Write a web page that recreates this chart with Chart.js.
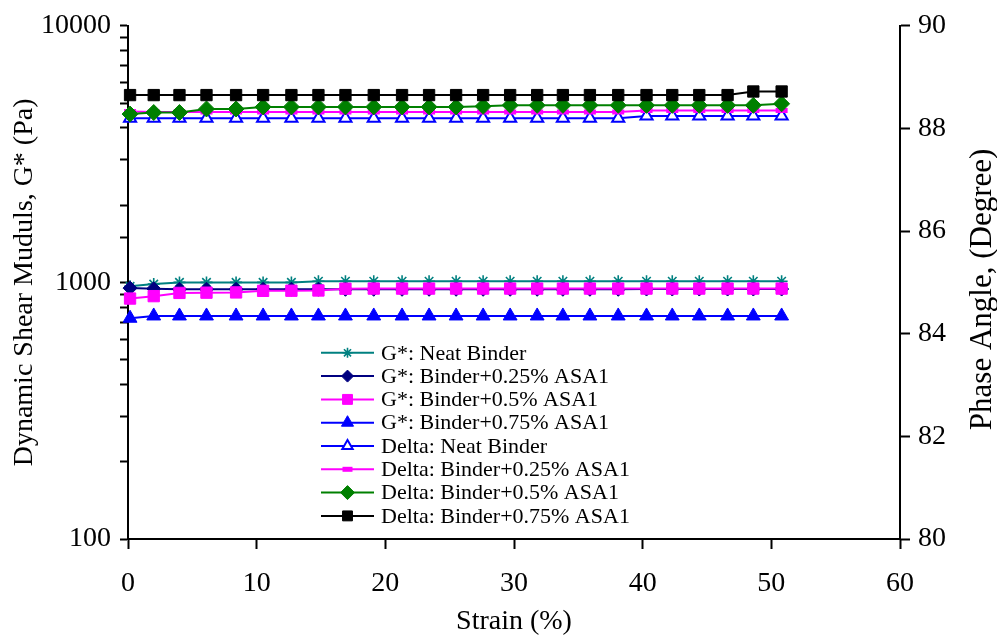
<!DOCTYPE html>
<html>
<head>
<meta charset="utf-8">
<script src="https://cdn.jsdelivr.net/npm/chart.js@4.4.1/dist/chart.umd.min.js"></script>
<style>
  html, body { margin: 0; padding: 0; background: #fff; }
  #wrap { width: 997px; height: 639px; }
</style>
</head>
<body>
<div id="wrap"><canvas id="chart" width="997" height="639"></canvas></div>
<script>
// strain (%) at each measuring point
let strain = [0.16, 2.0, 4.0, 6.1, 8.4, 10.5, 12.7, 14.8, 16.9, 19.1, 21.3, 23.4, 25.5,
              27.6, 29.7, 31.8, 33.8, 35.9, 38.1, 40.3, 42.3, 44.4, 46.6, 48.6, 50.8];

// G* (Pa), left log axis
let gNeat = [965, 985, 1000, 1000, 1000, 1000, 1000, 1010, 1010, 1010, 1010, 1010, 1010,
             1010, 1010, 1010, 1010, 1010, 1010, 1010, 1010, 1010, 1010, 1010, 1010];
let g025 = [950, 945, 940, 940, 940, 940, 940, 940, 940, 940, 940, 940, 940,
            940, 940, 940, 940, 940, 940, 942, 942, 942, 942, 942, 942];
let g05 = [865, 884, 910, 912, 914, 927, 928, 930, 945, 946, 946, 946, 946,
           946, 946, 946, 946, 946, 946, 946, 946, 946, 946, 946, 946];
let g075 = [725, 740, 740, 740, 740, 740, 740, 740, 740, 740, 740, 740, 740,
            740, 740, 740, 740, 740, 740, 740, 740, 740, 740, 740, 740];

// phase angle (degree), right axis
let dNeat = [88.20, 88.20, 88.20, 88.20, 88.20, 88.20, 88.20, 88.20, 88.20, 88.20, 88.20, 88.20, 88.20,
             88.20, 88.20, 88.20, 88.20, 88.20, 88.20, 88.24, 88.24, 88.24, 88.24, 88.24, 88.24];
let d025 = [88.33, 88.32, 88.32, 88.32, 88.32, 88.32, 88.32, 88.32, 88.32, 88.32, 88.32, 88.32, 88.32,
            88.32, 88.32, 88.32, 88.32, 88.32, 88.32, 88.35, 88.35, 88.35, 88.35, 88.35, 88.35];
let d05 = [88.28, 88.31, 88.31, 88.38, 88.38, 88.42, 88.42, 88.42, 88.42, 88.42, 88.42, 88.42, 88.42,
           88.43, 88.45, 88.45, 88.45, 88.45, 88.45, 88.45, 88.45, 88.45, 88.45, 88.45, 88.48];
let d075 = [88.65, 88.65, 88.65, 88.65, 88.65, 88.65, 88.65, 88.65, 88.65, 88.65, 88.65, 88.65, 88.65,
            88.65, 88.65, 88.65, 88.65, 88.65, 88.65, 88.65, 88.65, 88.65, 88.65, 88.72, 88.72];

let seriesNames = ["G*: Neat Binder", "G*: Binder+0.25% ASA1", "G*: Binder+0.5% ASA1", "G*: Binder+0.75% ASA1",
                   "Delta: Neat Binder", "Delta: Binder+0.25% ASA1", "Delta: Binder+0.5% ASA1", "Delta: Binder+0.75% ASA1"];
let leftTicks = [100, 1000, 10000];
let rightTitle = "Phase Angle, (Degree)";

const serif = "'Liberation Serif', 'Times New Roman', serif";
const pts = vals => vals.map((v, i) => ({ x: strain[i], y: v }));

function series(i, vals, axis, color, style, radius, fill, bw) {
    return {
        label: seriesNames[i],
        data: pts(vals),
        yAxisID: axis,
        borderColor: color,
        borderWidth: 2,
        pointStyle: style,
        pointRadius: radius,
        pointHoverRadius: radius,
        pointBackgroundColor: fill,
        pointBorderColor: color,
        pointBorderWidth: bw,
        clip: false,
        order: -i
    };
}

let datasets = [
    series(0, gNeat, "y", "#008080", "star", 6, "#008080", 1.6),
    series(1, g025, "y", "#000080", "rectRot", 7, "#000080", 1),
    series(2, g05, "y", "#ff00ff", "rect", 8, "#ff00ff", 1),
    series(3, g075, "y", "#0000ff", "triangle", 8, "#0000ff", 1),
    series(4, dNeat, "y1", "#0000ff", "triangle", 7, "#ffffff", 2),
    series(5, d025, "y1", "#ff00ff", "line", 6, "#ff00ff", 5),
    series(6, d05, "y1", "#008000", "rectRot", 8, "#008000", 1),
    series(7, d075, "y1", "#000000", "rect", 8, "#000000", 1)
];

/* -------- legend inside the plot + right title reading upward -------- */
const insideLegend = {
    id: "insideLegend",
    afterDraw(chart) {
        const ctx = chart.ctx;
        const a = chart.chartArea;
        const x0 = a.left + 193, x1 = a.left + 246, top = a.top + 327, row = 23.3;
        ctx.save();
        ctx.font = "22px " + serif;
        ctx.textBaseline = "middle";
        ctx.textAlign = "left";
        chart.data.datasets.forEach((ds, i) => {
            const y = top + i * row;
            ctx.strokeStyle = ds.borderColor;
            ctx.lineWidth = 2;
            ctx.beginPath();
            ctx.moveTo(x0, y);
            ctx.lineTo(x1, y);
            ctx.stroke();
            ctx.fillStyle = ds.pointBackgroundColor;
            ctx.strokeStyle = ds.pointBorderColor;
            ctx.lineWidth = ds.pointBorderWidth;
            Chart.helpers.drawPoint(ctx, {
                pointStyle: ds.pointStyle,
                radius: ds.pointStyle === "line" ? 5 : ds.pointRadius - 1,
                borderWidth: ds.pointBorderWidth,
                rotation: 0
            }, (x0 + x1) / 2, y);
            ctx.fillStyle = "#000";
            ctx.fillText(ds.label, x1 + 7, y + 1);
        });

        // right axis title
        ctx.translate(983, (a.top + a.bottom) / 2 + 7);
        ctx.rotate(-Math.PI / 2);
        ctx.textAlign = "center";
        ctx.font = "31px " + serif;
        ctx.fillText(rightTitle, 0, 0);
        ctx.restore();
    }
};

new Chart(document.getElementById("chart"), {
    type: "line",
    data: { datasets: datasets },
    options: {
        responsive: false,
        animation: false,
        devicePixelRatio: 1,
        layout: { padding: { top: 22, left: 0, right: 0, bottom: 0 } },
        plugins: { legend: { display: false }, tooltip: { enabled: false } },
        scales: {
            x: {
                type: "linear",
                min: 0,
                max: 60,
                ticks: { stepSize: 10, color: "#000", font: { family: serif, size: 28 }, padding: 18, maxRotation: 0 },
                grid: { drawOnChartArea: false, tickLength: 10, tickWidth: 2, color: "#000" },
                border: { color: "#000", width: 2 },
                title: { display: true, text: "Strain (%)", color: "#000", font: { family: serif, size: 28 }, padding: { top: 0, bottom: 1 } },
                afterFit(s) { s.height = 100; }
            },
            y: {
                type: "logarithmic",
                position: "left",
                min: 100,
                max: 10000,
                ticks: {
                    autoSkip: false,
                    color: "#000",
                    font: { family: serif, size: 28 },
                    padding: 9,
                    callback: v => leftTicks.includes(v) ? String(v) : ""
                },
                grid: { drawOnChartArea: false, tickLength: 8, tickWidth: 2, color: "#000" },
                border: { color: "#000", width: 2 },
                title: { display: true, text: "Dynamic Shear Muduls, G* (Pa)", color: "#000", font: { family: serif, size: 28 }, padding: { top: 8, bottom: 0 } },
                afterFit(s) { s.width = 128; }
            },
            y1: {
                type: "linear",
                position: "right",
                min: 80,
                max: 90,
                ticks: { stepSize: 2, color: "#000", font: { family: serif, size: 28 }, padding: 8 },
                grid: { drawOnChartArea: false, tickLength: 10, tickWidth: 2, color: "#000" },
                border: { color: "#000", width: 2 },
                afterFit(s) { s.width = 97; }
            }
        }
    },
    plugins: [insideLegend]
});
</script>
</body>
</html>
